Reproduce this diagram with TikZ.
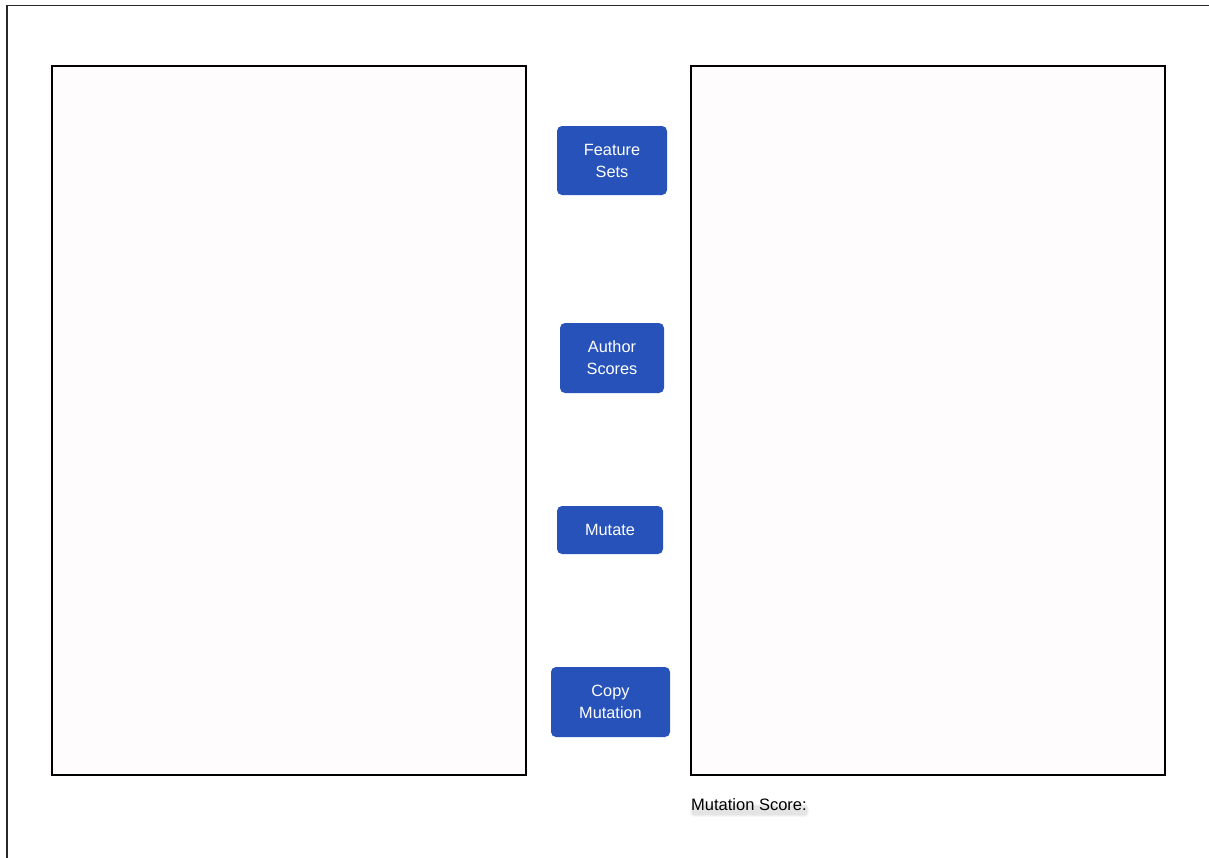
\documentclass[tikz,border=0pt]{standalone}
\usepackage{fontspec}
\setmainfont{Liberation Sans}
\definecolor{btnblue}{RGB}{39,82,185}
\definecolor{panelfill}{RGB}{255,252,253}
\definecolor{framegray}{RGB}{40,40,40}
\begin{document}
\begin{tikzpicture}[x=1bp,y=-1bp,
  panel/.style={draw=black,line width=1.6bp,fill=panelfill},
  btn/.style={fill=btnblue,rounded corners=5bp,text=white,align=center,
    font=\fontsize{16.3bp}{22bp}\selectfont,inner sep=0pt},
  lbl/.style={font=\fontsize{16.5bp}{20bp}\selectfont,anchor=west,inner sep=0pt}]
\useasboundingbox (0,0) rectangle (1209,858);
\fill[white] (0,0) rectangle (1209,858);
\draw[framegray,line width=1.2bp] (7,858) -- (7,5.5) -- (1209,5.5);
\node[panel,minimum width=474bp,minimum height=709bp,inner sep=0pt] (left) at (289,420.5) {};
\node[panel,minimum width=474bp,minimum height=709bp,inner sep=0pt] (right) at (928,420.5) {};
\node[btn,minimum width=110bp,minimum height=69bp] (feat) at (612,160.5) {Feature\\Sets};
\node[btn,minimum width=104bp,minimum height=70bp] (auth) at (612,358) {Author\\Scores};
\node[btn,minimum width=106bp,minimum height=48bp] (mut) at (610,530) {Mutate};
\node[btn,minimum width=119bp,minimum height=70bp] (copy) at (610.5,702) {Copy\\Mutation};
\foreach \o/\d in {0.03/4,0.035/3,0.04/2}{
  \fill[black,opacity=\o,rounded corners=\d bp] (694-\d,808-\d) rectangle (805+\d,813+\d);
}
\node[lbl] (score) at (691,805) {Mutation Score:};
\end{tikzpicture}
\end{document}
